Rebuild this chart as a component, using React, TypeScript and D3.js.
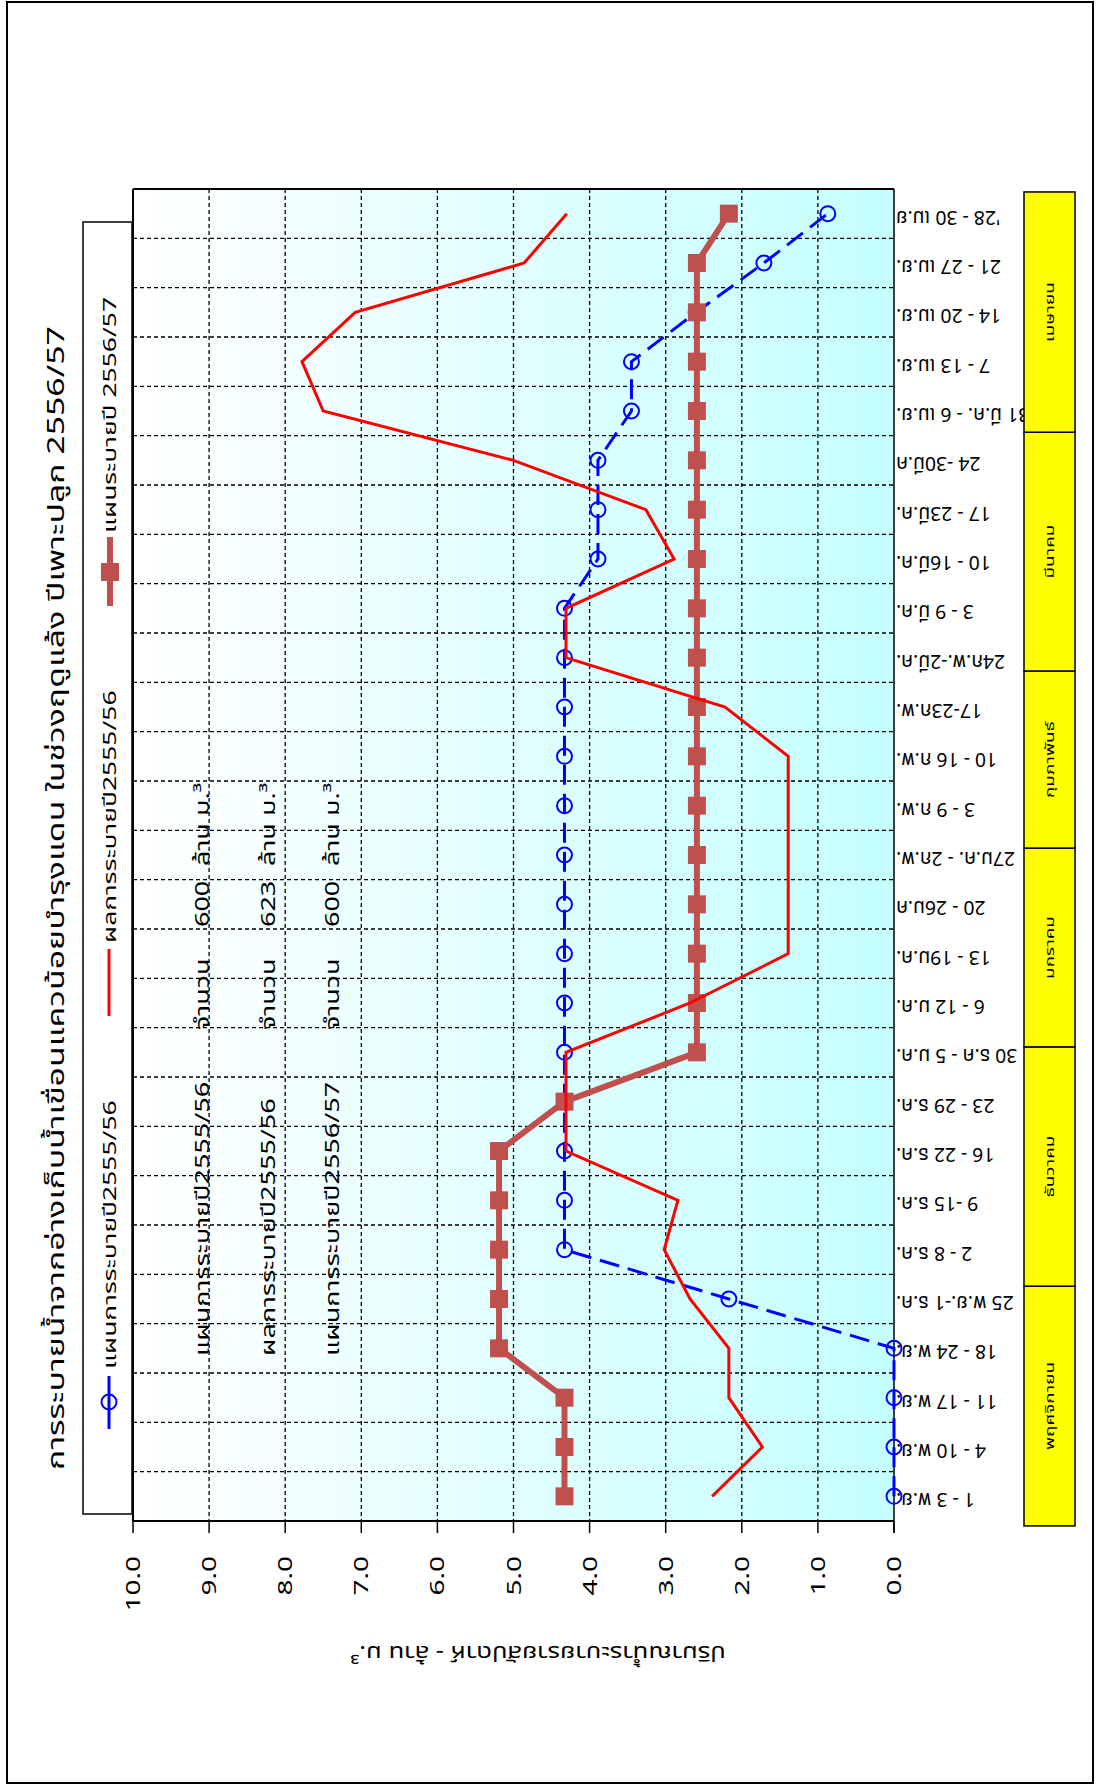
import React from "react";
import * as d3 from "d3";

// ---------- data (chronological, bottom to top in the picture) ----------
const categories = [
  "1 - 3 พ.ย.", "4 - 10 พ.ย.", "11 - 17 พ.ย.", "18 - 24 พ.ย.", "25 พ.ย.-1 ธ.ค.",
  "2 - 8 ธ.ค.", "9 -15 ธ.ค.", "16 - 22 ธ.ค.", "23 - 29 ธ.ค.", "30 ธ.ค - 5 ม.ค.",
  "6 - 12 ม.ค.", "13 - 19ม.ค.", "20 - 26ม.ค", "27ม.ค. - 2ก.พ.", "3 - 9 ก.พ.",
  "10 - 16 ก.พ.", "17-23ก.พ.", "24ก.พ.-2มี.ค.", "3 - 9 มี.ค.", "10 - 16มี.ค.",
  "17 - 23มี.ค.", "24 -30มี.ค", "31 มี.ค. - 6 เม.ย.", "7 - 13 เม.ย.", "14 - 20 เม.ย.",
  "21 - 27 เม.ย.", "'28 - 30 เม.ย",
];

// แผนการระบายปี2555/56 (blue, dashed, open circles)
const plan5556 = [
  0, 0, 0, 0, 2.17, 4.33, 4.33, 4.33, 4.33, 4.33,
  4.33, 4.33, 4.33, 4.33, 4.33, 4.33, 4.33, 4.33, 4.33, 3.89,
  3.89, 3.89, 3.45, 3.45, 2.6, 1.71, 0.87,
];

// ผลการระบายปี2555/56 (red line)
const actual5556 = [
  2.39, 1.73, 2.17, 2.17, 2.68, 3.02, 2.84, 4.31, 4.31, 4.31,
  2.68, 1.39, 1.39, 1.39, 1.39, 1.39, 2.22, 4.31, 4.31, 2.89,
  3.26, 5.0, 7.5, 7.78, 7.08, 4.86, 4.3,
];

// แผนระบายปี 2556/57 (brown, squares)
const plan5657 = [
  4.33, 4.33, 4.33, 5.19, 5.19, 5.19, 5.19, 5.19, 4.33, 2.59,
  2.59, 2.59, 2.59, 2.59, 2.59, 2.59, 2.59, 2.59, 2.59, 2.59,
  2.59, 2.59, 2.59, 2.59, 2.59, 2.59, 2.17,
];

const valueTicks = [0, 1, 2, 3, 4, 5, 6, 7, 8, 9, 10];

const months = ["พฤศจิกายน", "ธันวาคม", "มกราคม", "กุมภาพันธ์", "มีนาคม", "เมษายน"];
const monthStart = [-0.1, 4.76, 9.61, 13.64, 17.23, 22.07];
const monthEnd = [4.76, 9.61, 13.64, 17.23, 22.07, 26.94];

const tableLabels = ["แผนการระบายปี2555/56", "ผลการระบายปี2555/56", "แผนการระบายปี2556/57"];
const tableAmounts = ["600", "623", "600"];

const title = "การระบายน้ำจากอ่างเก็บน้ำเขื่อนแควน้อยบำรุงแดน ในช่วงฤดูแล้ง ปีเพาะปลูก 2556/57";
const axisTitle = "ปริมาณน้ำระบายรายสัปดาห์ - ล้าน ม.³";
const legendLabels = ["แผนการระบายปี2555/56", "ผลการระบายปี2555/56", "แผนระบายปี 2556/57"];

// ---------- layout ----------
const W = 1096;
const H = 1785;
const plotLeft = 133;
const plotRight = 894;
const plotTop = 189;
const plotBottom = 1521;

const FONT = "Tahoma, 'Noto Sans Thai', 'Noto Sans', 'DejaVu Sans', sans-serif";

const BLUE = "#0000FF";
const RED = "#FF0000";
const BROWN = "#C0504D";

function VText(props: any) {
  const { x, y, anchor = "start", size = 16, stretch = 1, children, fill = "#000", weight = "normal" } = props;
  return (
    <text
      transform={`translate(${x},${y}) scale(1,${stretch}) rotate(-90)`}
      textAnchor={anchor}
      fontSize={size}
      fontWeight={weight}
      dy="0.35em"
      fill={fill}
      fontFamily={FONT}
    >
      {children}
    </text>
  );
}

function UText(props: any) {
  const { x, y, anchor = "start", size = 16, sx = 1, sy = 1, children } = props;
  return (
    <text
      transform={`translate(${x},${y}) scale(${sx},${sy}) rotate(180)`}
      textAnchor={anchor}
      fontSize={size}
      dy="0.35em"
      fill="#000"
      fontFamily={FONT}
    >
      {children}
    </text>
  );
}

export default function App() {
  const x = d3.scaleLinear().domain([0, 10]).range([plotRight, plotLeft]);
  const band = d3
    .scaleBand<string>()
    .domain(categories)
    .range([plotBottom, plotTop])
    .padding(0);
  const bw = band.bandwidth();
  const yc = (c: string) => (band(c) as number) + bw / 2;
  const u = d3.scaleLinear().domain([0, categories.length]).range([plotBottom, plotTop]);

  const line = d3
    .line<number>()
    .x((d) => x(d))
    .y((_, i) => yc(categories[i]));

  const boundaries = d3.range(1, categories.length).map((i) => u(i));

  return (
    <svg
      width={W}
      height={H}
      viewBox={`0 0 ${W} ${H}`}
      style={{ position: "absolute", left: 0, top: 0, background: "#fff" }}
    >
      <defs>
        <linearGradient id="bg" gradientUnits="userSpaceOnUse" x1={plotLeft} y1={0} x2={plotRight} y2={0}>
          <stop offset="0" stopColor="#FFFFFF" />
          <stop offset="1" stopColor="#C4FFFF" />
        </linearGradient>
      </defs>

      {/* outer frame */}
      <rect x={7} y={2} width={1086} height={1781} fill="#fff" stroke="#000" strokeWidth={2} />

      {/* plot background */}
      <rect x={plotLeft} y={plotTop} width={plotRight - plotLeft} height={plotBottom - plotTop} fill="url(#bg)" />

      {/* grid */}
      <g stroke="#000" strokeWidth={1.3} strokeDasharray="4,3">
        {valueTicks.slice(1, -1).map((t) => (
          <line key={"v" + t} x1={x(t)} x2={x(t)} y1={plotTop} y2={plotBottom} />
        ))}
        {boundaries.map((b, i) => (
          <line key={"h" + i} x1={plotLeft} x2={plotRight} y1={b} y2={b} />
        ))}
      </g>

      {/* plot frame & axes */}
      <line x1={plotLeft} x2={plotRight} y1={plotTop} y2={plotTop} stroke="#000" strokeWidth={2} />
      <line x1={plotLeft} x2={plotLeft} y1={plotTop} y2={plotBottom} stroke="#000" strokeWidth={2} />
      <line x1={plotRight} x2={plotRight} y1={plotTop} y2={plotBottom + 12} stroke="#000" strokeWidth={1.5} />
      <line x1={plotLeft} x2={plotRight} y1={plotBottom} y2={plotBottom} stroke="#000" strokeWidth={2} />
      {valueTicks.map((t) => (
        <line key={"t" + t} x1={x(t)} x2={x(t)} y1={plotBottom} y2={plotBottom + 12} stroke="#000" strokeWidth={1.5} />
      ))}

      {/* value tick labels */}
      {valueTicks.map((t) => (
        <VText key={"tl" + t} x={x(t)} y={1556} anchor="end" size={20} stretch={1.4}>
          {t.toFixed(1)}
        </VText>
      ))}

      {/* value axis title (upside down) */}
      <UText x={538} y={1653} anchor="middle" size={20} sx={1.28} sy={1.05}>
        {axisTitle}
      </UText>

      {/* category labels (upside down) */}
      {categories.map((c) => (
        <UText key={"c" + c} x={896} y={yc(c) + 4} anchor="end" size={17} sx={1.14} sy={1.2}>
          {c}
        </UText>
      ))}

      {/* month boxes */}
      {months.map((m, i) => (
        <g key={"m" + m}>
          <rect
            x={1024}
            y={u(monthEnd[i])}
            width={51}
            height={u(monthStart[i]) - u(monthEnd[i])}
            fill="#FFFF00"
            stroke="#000"
            strokeWidth={1.5}
          />
          <VText x={1049.5} y={(u(monthStart[i]) + u(monthEnd[i])) / 2} anchor="middle" size={13} stretch={1.45}>
            {m}
          </VText>
        </g>
      ))}

      {/* table text inside plot */}
      {tableLabels.map((lab, i) => {
        const cx = [202, 268, 332][i];
        return (
          <g key={"tb" + i}>
            <VText x={cx} y={1356} size={19} stretch={1.42}>{lab}</VText>
            <VText x={cx} y={1030} size={19} stretch={1.42}>จำนวน</VText>
            <VText x={cx} y={927} size={19} stretch={1.42}>{tableAmounts[i]}</VText>
            <VText x={cx} y={866} size={19} stretch={1.42}>ล้าน ม.³</VText>
          </g>
        );
      })}

      {/* series: blue plan 2555/56 */}
      <path d={line(plan5556) as string} fill="none" stroke={BLUE} strokeWidth={3} strokeDasharray="20,9" />
      {plan5556.map((v, i) => (
        <circle key={"b" + i} cx={x(v)} cy={yc(categories[i])} r={7.5} fill="none" stroke={BLUE} strokeWidth={2} />
      ))}

      {/* series: brown plan 2556/57 */}
      <path d={line(plan5657) as string} fill="none" stroke={BROWN} strokeWidth={6} />
      {plan5657.map((v, i) => (
        <rect key={"s" + i} x={x(v) - 9} y={yc(categories[i]) - 9} width={18} height={18} fill={BROWN} />
      ))}

      {/* series: red actual 2555/56 */}
      <path d={line(actual5556) as string} fill="none" stroke={RED} strokeWidth={3} strokeLinejoin="miter" />

      {/* legend box */}
      <rect x={83} y={222} width={49} height={1292} fill="#fff" stroke="#000" strokeWidth={1.5} />
      {/* legend entry 1 */}
      <line x1={109} x2={109} y1={1376} y2={1429} stroke={BLUE} strokeWidth={3} />
      <circle cx={109} cy={1402} r={7.5} fill="none" stroke={BLUE} strokeWidth={2} />
      <VText x={110} y={1369} size={18} stretch={1.47}>{legendLabels[0]}</VText>
      {/* legend entry 2 */}
      <line x1={109} x2={109} y1={949} y2={1016} stroke={RED} strokeWidth={3} />
      <VText x={110} y={943} size={18} stretch={1.47}>{legendLabels[1]}</VText>
      {/* legend entry 3 */}
      <line x1={110} x2={110} y1={537} y2={606} stroke={BROWN} strokeWidth={6} />
      <rect x={101} y={563} width={18} height={18} fill={BROWN} />
      <VText x={110} y={533} size={18} stretch={1.47}>{legendLabels[2]}</VText>

      {/* title */}
      <VText x={56} y={898} anchor="middle" size={23} stretch={1.47}>
        {title}
      </VText>
    </svg>
  );
}
